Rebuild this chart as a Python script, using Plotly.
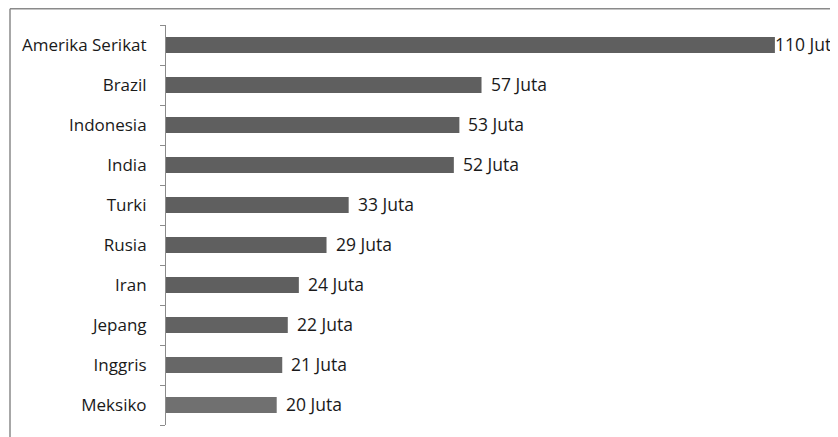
import plotly.graph_objects as go

countries = ["Amerika Serikat", "Brazil", "Indonesia", "India", "Turki",
             "Rusia", "Iran", "Jepang", "Inggris", "Meksiko"]
values = [110, 57, 53, 52, 33, 29, 24, 22, 21, 20]
labels = ["110 Juta", "57 Juta", "53 Juta", "52 Juta", "33 Juta",
          "29 Juta", "24 Juta", "22 Juta", "21 Juta", "20 Juta"]
bar_colors = ["#5f5f5f"] * 7 + ["#626262", "#676767", "#707070"]
label_shift = [-2] + [7] * 9

FONT = "Open Sans"
W, H = 830, 429
L, T, B = 158, 17, 12
PW, PH = W - L, H - T - B

fig = go.Figure(go.Bar(
    x=values, y=countries, orientation="h",
    marker=dict(color=bar_colors, line=dict(width=0)),
    width=0.4, hoverinfo="skip",
))

for c, v, t, s in zip(countries, values, labels, label_shift):
    fig.add_annotation(x=v, y=c, text=t, showarrow=False, xanchor="left",
                       xshift=s, yshift=1, font=dict(family=FONT, size=17.5, color="#1a1a1a"))

fig.update_layout(
    width=W, height=H,
    margin=dict(l=L, r=0, t=T, b=B),
    paper_bgcolor="white", plot_bgcolor="white",
    showlegend=False,
    xaxis=dict(visible=False, range=[0, 121.4], fixedrange=True),
    yaxis=dict(
        categoryorder="array", categoryarray=countries[::-1],
        showline=True, linecolor="#8c8c8c", linewidth=1,
        ticks="outside", tickson="boundaries", ticklen=5, tickcolor="#8c8c8c",
        ticklabelstandoff=15,
        tickfont=dict(family=FONT, size=17, color="#1a1a1a"),
        showgrid=False, zeroline=False,
    ),
)

# outer frame (top and left edges)
fx = (2 - L) / PW
fy = (PH + T - 0.75) / PH
fig.add_shape(type="line", xref="paper", yref="paper",
              x0=fx, x1=1.0, y0=fy, y1=fy,
              line=dict(color="#8a8a8a", width=1.5))
fig.add_shape(type="line", xref="paper", yref="paper",
              x0=fx, x1=fx, y0=-B / PH, y1=fy,
              line=dict(color="#8a8a8a", width=1.5))

fig.write_html("out.html")
